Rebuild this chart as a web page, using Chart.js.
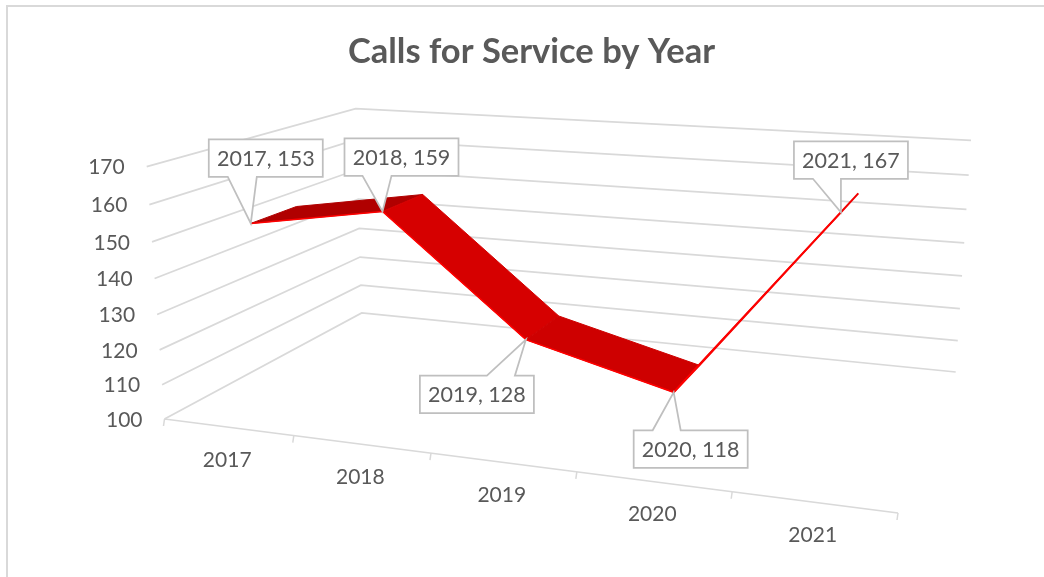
<!DOCTYPE html>
<html>
<head>
<meta charset="utf-8">
<style>html,body{margin:0;padding:0;background:#fff;overflow:hidden}canvas{display:block}</style>
<script src="https://cdn.jsdelivr.net/npm/chart.js@4"></script>
</head>
<body>
<canvas id="c" width="1044" height="577"></canvas>
<script>
const years = ['2017', '2018', '2019', '2020', '2021'];
const calls = [153, 159, 128, 118, 167];
const valueMin = 100;
const valueMax = 170;
const valueStep = 10;
const chartTitle = 'Calls for Service by Year';

// Camera of the 3-D box: where the corners of the box land on the page.
const floorCorners = { fl: [164.5, 419], fr: [898, 513], br: [955.7, 372], bl: [361.7, 313] };
const roofCorners = { fl: [146.7, 166.7], fr: [919, 220], br: [971, 140.3], bl: [355.7, 108.7] };
const heightBend = 0.06;
const ribbonNear = 0.145;
const ribbonFar = 0.355;
const segmentColors = ['#B00000', '#D60000', '#CE0000', '#F00000'];
// Callout box top-left relative to the tip, then pointer base relative to the box left.
const calloutBoxes = [
  { dx: -42, dy: -84, b0: 19, b1: 48 },
  { dx: -38, dy: -73, b0: 18, b1: 47 },
  { dx: -106, dy: 36, b0: 67, b1: 95 },
  { dx: -40, dy: 38, b0: 19, b1: 47 },
  { dx: -47, dy: -71, b0: 19, b1: 47 }
];
const ink = '#595959';
const gridInk = '#D9D9D9';
const boxInk = '#BFBFBF';

function makeHomography(q) {
  const [x0, y0] = q.fl, [x1, y1] = q.fr, [x2, y2] = q.br, [x3, y3] = q.bl;
  const dx1 = x1 - x2, dx2 = x3 - x2, sx = x0 - x1 + x2 - x3;
  const dy1 = y1 - y2, dy2 = y3 - y2, sy = y0 - y1 + y2 - y3;
  const den = dx1 * dy2 - dx2 * dy1;
  const g = (sx * dy2 - dx2 * sy) / den;
  const h = (dx1 * sy - sx * dy1) / den;
  const a = x1 - x0 + g * x1, b = x3 - x0 + h * x3;
  const d = y1 - y0 + g * y1, e = y3 - y0 + h * y3;
  return (u, w) => {
    const k = g * u + h * w + 1;
    return [(a * u + b * w + x0) / k, (d * u + e * w + y0) / k];
  };
}
const floorAt = makeHomography(floorCorners);
const roofAt = makeHomography(roofCorners);

function project(u, v, w) {
  const f = floorAt(u, w), t = roofAt(u, w);
  const m = v / (1 + heightBend * (1 - v));
  return [f[0] + (t[0] - f[0]) * m, f[1] + (t[1] - f[1]) * m];
}
function normU(chart, value) {
  const s = chart.scales.x;
  return (s.getPixelForValue(value) - s.left) / (s.right - s.left);
}
function normV(chart, value) {
  const s = chart.scales.y;
  return (s.bottom - s.getPixelForValue(value)) / (s.bottom - s.top);
}
function stroke(ctx, pts, color, width) {
  ctx.beginPath();
  pts.forEach((p, i) => (i ? ctx.lineTo(p[0], p[1]) : ctx.moveTo(p[0], p[1])));
  ctx.strokeStyle = color;
  ctx.lineWidth = width;
  ctx.stroke();
}

const box3d = {
  id: 'box3d',
  afterDatasetsUpdate(chart) {
    const pts = chart.getDatasetMeta(0).data;
    pts.forEach((el, i) => {
      const p = project(normU(chart, i), normV(chart, calls[i]), ribbonNear);
      el.x = p[0];
      el.y = p[1];
    });
  },
  beforeDatasetsDraw(chart) {
    const ctx = chart.ctx;
    ctx.save();
    ctx.lineCap = 'butt';
    ctx.lineJoin = 'miter';
    // frame of the chart
    stroke(ctx, [[7, 577], [7, 6], [1044, 6]], gridInk, 2);

    // grid lines from the value scale
    chart.scales.y.ticks.forEach(t => {
      const v = normV(chart, t.value);
      stroke(ctx, [project(0, v, 0), project(0, v, 1), project(1, v, 1)], gridInk, 1.75);
    });
    // floor front edge and its tick marks
    stroke(ctx, [project(0, 0, 0), project(1, 0, 0)], gridInk, 1.75);
    for (let i = 0; i <= years.length; i++) {
      const p = project(normU(chart, i - 0.5), 0, 0);
      stroke(ctx, [p, [p[0] - 1, p[1] + 7]], gridInk, 1.5);
    }
    // value labels
    ctx.fillStyle = ink;
    ctx.font = '21px Lato';
    ctx.textBaseline = 'middle';
    ctx.textAlign = 'right';
    chart.scales.y.ticks.forEach(t => {
      const p = project(0, normV(chart, t.value), 0);
      ctx.fillText(String(t.value), p[0] - 22, p[1] + 1);
    });
    // year labels
    ctx.textAlign = 'center';
    years.forEach((y, i) => {
      const p = project(normU(chart, i), 0, 0);
      ctx.fillText(y, p[0] - 1, p[1] + 33);
    });
    // ribbon
    for (let i = 0; i < calls.length - 1; i++) {
      const u0 = normU(chart, i), u1 = normU(chart, i + 1);
      const v0 = normV(chart, calls[i]), v1 = normV(chart, calls[i + 1]);
      const quad = [project(u0, v0, ribbonNear), project(u0, v0, ribbonFar),
                    project(u1, v1, ribbonFar), project(u1, v1, ribbonNear)];
      ctx.beginPath();
      quad.forEach((p, k) => (k ? ctx.lineTo(p[0], p[1]) : ctx.moveTo(p[0], p[1])));
      ctx.closePath();
      ctx.fillStyle = segmentColors[i];
      ctx.fill();
      ctx.strokeStyle = segmentColors[i];
      ctx.lineWidth = i === calls.length - 2 ? 2 : 1;
      ctx.stroke();
    }
    ctx.restore();
  },
  afterDatasetsDraw(chart) {
    const ctx = chart.ctx;
    const W = 114, H = 37.5;
    ctx.save();
    ctx.lineJoin = 'miter';
    calls.forEach((val, i) => {
      const el = chart.getDatasetMeta(0).data[i];
      const c = calloutBoxes[i];
      const x = el.x + c.dx, y = el.y + c.dy;
      const above = c.dy < 0;
      ctx.beginPath();
      ctx.moveTo(x, y);
      if (above) {
        ctx.lineTo(x + W, y);
        ctx.lineTo(x + W, y + H);
        ctx.lineTo(x + c.b1, y + H);
        ctx.lineTo(el.x, el.y);
        ctx.lineTo(x + c.b0, y + H);
        ctx.lineTo(x, y + H);
      } else {
        ctx.lineTo(x + c.b0, y);
        ctx.lineTo(el.x, el.y);
        ctx.lineTo(x + c.b1, y);
        ctx.lineTo(x + W, y);
        ctx.lineTo(x + W, y + H);
        ctx.lineTo(x, y + H);
      }
      ctx.closePath();
      ctx.fillStyle = '#FFFFFF';
      ctx.fill();
      ctx.strokeStyle = boxInk;
      ctx.lineWidth = 1.75;
      ctx.stroke();
      ctx.fillStyle = ink;
      ctx.font = '21.5px Lato';
      ctx.textAlign = 'center';
      ctx.textBaseline = 'middle';
      ctx.fillText(years[i] + ', ' + val, x + W / 2, y + H / 2 + 1);
    });
    ctx.restore();
  }
};

new Chart(document.getElementById('c'), {
  type: 'line',
  data: {
    labels: years,
    datasets: [{
      label: 'Calls',
      data: calls,
      borderColor: '#FF0000',
      borderWidth: 1.5,
      pointRadius: 0,
      tension: 0,
      fill: false,
      clip: false
    }]
  },
  options: {
    responsive: false,
    animation: false,
    layout: { padding: { left: 19 } },
    plugins: {
      legend: { display: false },
      tooltip: { enabled: false },
      title: {
        display: true,
        text: chartTitle,
        color: ink,
        font: { family: 'Lato', size: 34.5, weight: 'bold' },
        padding: { top: 31, bottom: 10 }
      }
    },
    scales: {
      x: { type: 'category', display: false, offset: true },
      y: { type: 'linear', display: false, min: valueMin, max: valueMax, ticks: { stepSize: valueStep } }
    }
  },
  plugins: [box3d]
});
</script>
</body>
</html>
